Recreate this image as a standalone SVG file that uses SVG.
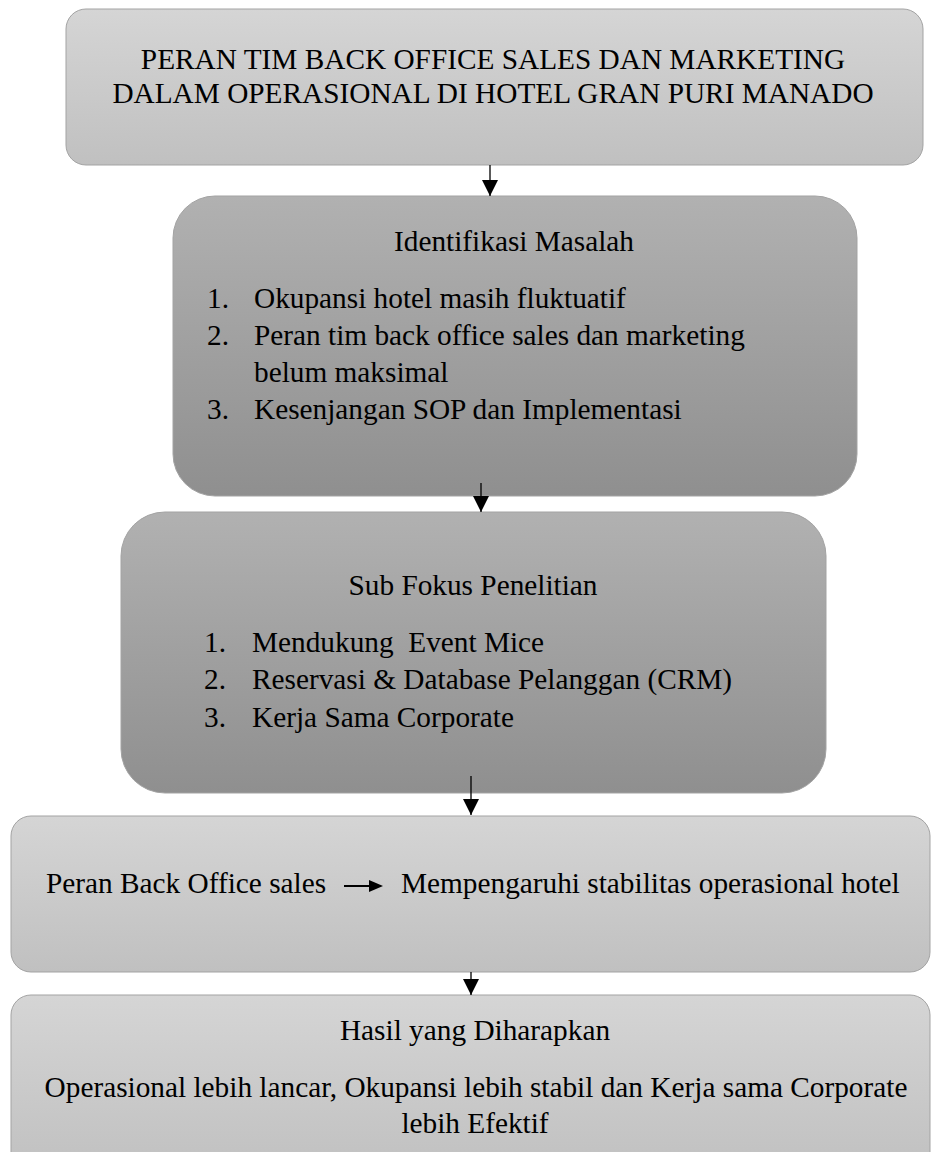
<svg xmlns="http://www.w3.org/2000/svg" width="931" height="1152" viewBox="0 0 931 1152">
  <defs>
    <linearGradient id="gLight" x1="0" y1="0" x2="0" y2="1">
      <stop offset="0" stop-color="#d5d5d5"/>
      <stop offset="1" stop-color="#c0c0c0"/>
    </linearGradient>
    <linearGradient id="gDark" x1="0" y1="0" x2="0" y2="1">
      <stop offset="0" stop-color="#b1b1b1"/>
      <stop offset="1" stop-color="#8f8f8f"/>
    </linearGradient>
    <marker id="ah" markerWidth="16" markerHeight="16" viewBox="0 0 16 16" refX="16" refY="8" orient="auto" markerUnits="userSpaceOnUse">
      <path d="M0,0 L16,8 L0,16 Z" fill="#000"/>
    </marker>
  </defs>
  <style>
    .box { stroke: #a3a3a3; stroke-width: 1; }
    .light { fill: url(#gLight); }
    .dark { fill: url(#gDark); }
    text { font-family: "Liberation Serif", "Times New Roman", serif; font-size: 29.3px; fill: #000; }
    .c { text-anchor: middle; }
    .conn { stroke: #000; stroke-width: 1.3; fill: none; marker-end: url(#ah); }
  </style>

  <g id="node-title">
    <rect class="box light" x="66" y="9" width="857" height="156" rx="20" ry="20"/>
    <text class="c" x="493" y="69">PERAN TIM BACK OFFICE SALES DAN MARKETING</text>
    <text class="c" x="493" y="103">DALAM OPERASIONAL DI HOTEL GRAN PURI MANADO</text>
  </g>

  <g id="node-identifikasi">
    <rect class="box dark" x="173" y="196" width="684" height="300" rx="42" ry="42"/>
    <text class="c" x="514" y="251">Identifikasi Masalah</text>
    <text x="207" y="308">1.</text>
    <text x="254" y="308">Okupansi hotel masih fluktuatif</text>
    <text x="207" y="345">2.</text>
    <text x="254" y="345">Peran tim back office sales dan marketing</text>
    <text x="254" y="382">belum maksimal</text>
    <text x="207" y="419">3.</text>
    <text x="254" y="419">Kesenjangan SOP dan Implementasi</text>
  </g>

  <g id="node-subfokus">
    <rect class="box dark" x="121" y="512" width="705" height="281" rx="44" ry="44"/>
    <text class="c" x="473" y="595">Sub Fokus Penelitian</text>
    <text x="204" y="652">1.</text>
    <text x="252" y="652" xml:space="preserve">Mendukung  Event Mice</text>
    <text x="204" y="689">2.</text>
    <text x="252" y="689">Reservasi &amp; Database Pelanggan (CRM)</text>
    <text x="204" y="727">3.</text>
    <text x="252" y="727">Kerja Sama Corporate</text>
  </g>

  <g id="node-peran">
    <rect class="box light" x="11" y="816" width="919" height="156" rx="20" ry="20"/>
    <text x="46" y="893">Peran Back Office sales</text>
    <line x1="344" y1="886" x2="370" y2="886" stroke="#000" stroke-width="2"/>
    <path d="M369,880 L383,886 L369,892 Z" fill="#000"/>
    <text x="401" y="893">Mempengaruhi stabilitas operasional hotel</text>
  </g>

  <g id="node-hasil">
    <rect class="box light" x="11" y="995" width="919" height="180" rx="20" ry="20"/>
    <text class="c" x="475" y="1040">Hasil yang Diharapkan</text>
    <text class="c" x="476" y="1097">Operasional lebih lancar, Okupansi lebih stabil dan Kerja sama Corporate</text>
    <text class="c" x="475" y="1133">lebih Efektif</text>
  </g>

  <g id="connectors">
    <line class="conn" x1="490" y1="165" x2="490" y2="196"/>
    <line class="conn" x1="481" y1="483" x2="481" y2="512"/>
    <line class="conn" x1="471" y1="776" x2="471" y2="815"/>
    <line class="conn" x1="471" y1="972" x2="471" y2="995"/>
  </g>
</svg>
